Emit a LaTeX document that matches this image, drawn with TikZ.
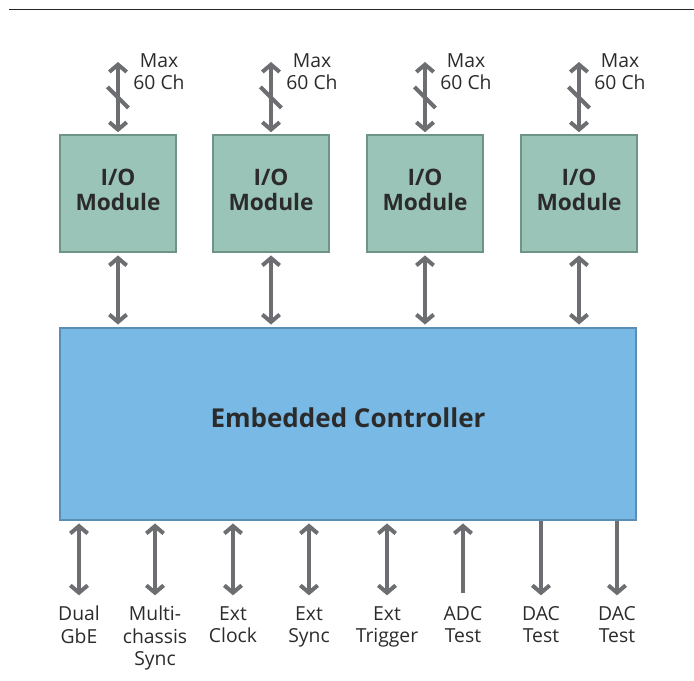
\documentclass[tikz,border=0pt]{standalone}
\usepackage{fontspec}
\setmainfont{Open Sans}
\usetikzlibrary{arrows.meta,positioning}
\definecolor{modfill}{HTML}{9BC4B8}
\definecolor{modline}{HTML}{6E9488}
\definecolor{ctrlfill}{HTML}{78B9E5}
\definecolor{ctrlline}{HTML}{5A8EB4}
\definecolor{wire}{HTML}{6D6E71}
\definecolor{txt}{HTML}{2B2B2B}

\begin{document}
\begin{tikzpicture}[x=0.75pt,y=-0.75pt]
  \tikzset{module/.style = {shape=rectangle,draw=modline,fill=modfill,line width=1.2pt,minimum width=87pt,minimum height=87.75pt,inner sep=0pt,align=center,text depth=6pt,text=txt,font=\fontsize{17}{18.75}\selectfont\bfseries}}
  \tikzset{ctrl/.style = {shape=rectangle,draw=ctrlline,fill=ctrlfill,line width=1.2pt,minimum width=432pt,minimum height=144pt,inner sep=0pt,text depth=9pt,text=txt,font=\fontsize{19.5}{24}\selectfont\bfseries}}
  \tikzset{lbl/.style = {align=center,inner sep=0pt,text=txt,font=\fontsize{14.5}{16.75}\selectfont}}
  \tikzset{bus/.style = {draw=wire,line width=3pt}}
  \tikzset{tipB/.tip={Straight Barb[length=5.5pt,width=13pt]}}
  \tikzset{tick/.style = {draw=wire,line width=3pt}}

  \useasboundingbox (0,0) rectangle (694,681);
  \draw[line width=0.8pt,black!85] (9,9.5) -- (694,9.5);

  % modules and controller
  \node[module] (M1) at (118,193.5) {I/O\\Module};
  \node[module] (M2) at (271,193.5) {I/O\\Module};
  \node[module] (M3) at (425,193.5) {I/O\\Module};
  \node[module] (M4) at (579,193.5) {I/O\\Module};

  \node[ctrl] (EC) at (348,424) {Embedded Controller};

  % channel ends above each module
  \foreach \n/\x in {1/118,2/271,3/425,4/579}{
    \coordinate (T\n) at (\x,62);
    \coordinate (S\n) at (\x,97.5);
    \node[lbl] (L\n) at (\x+41,71.5) {Max\\60 Ch};
  }

  \foreach \n in {1,2,3,4}{
    \draw[bus,tipB-tipB,shorten >=1.5pt] (T\n) -- (M\n.north);
    \draw[tick] ([shift={(-10.5,-10.5)}]S\n) -- ([shift={(10.5,10.5)}]S\n);
    \draw[bus,tipB-tipB,shorten <=2pt,shorten >=2pt] (M\n.south) -- (M\n.south |- EC.north);
  }

  % signals under the controller
  \foreach \n/\x/\txt in {1/79/{Dual\\GbE},2/155/{Multi-\\chassis\\Sync},3/233/{Ext\\Clock},4/309/{Ext\\Sync},5/387/{Ext\\Trigger},6/463/{ADC\\Test},7/541/{DAC\\Test},8/617/{DAC\\Test}}
    \node[lbl,anchor=north] (B\n) at (\x,606) {\txt};

  \foreach \n in {1,2,3,4,5}
    \draw[bus,tipB-tipB,shorten <=2pt,shorten >=8pt] (B\n.north |- EC.south) -- (B\n.north);
  \foreach \n in {6}
    \draw[bus,tipB-,shorten <=2pt,shorten >=9.5pt] (B\n.north |- EC.south) -- (B\n.north);
  \foreach \n in {7,8}
    \draw[bus,-tipB,shorten <=0pt,shorten >=8pt] (B\n.north |- EC.south) -- (B\n.north);

\end{tikzpicture}
\end{document}
